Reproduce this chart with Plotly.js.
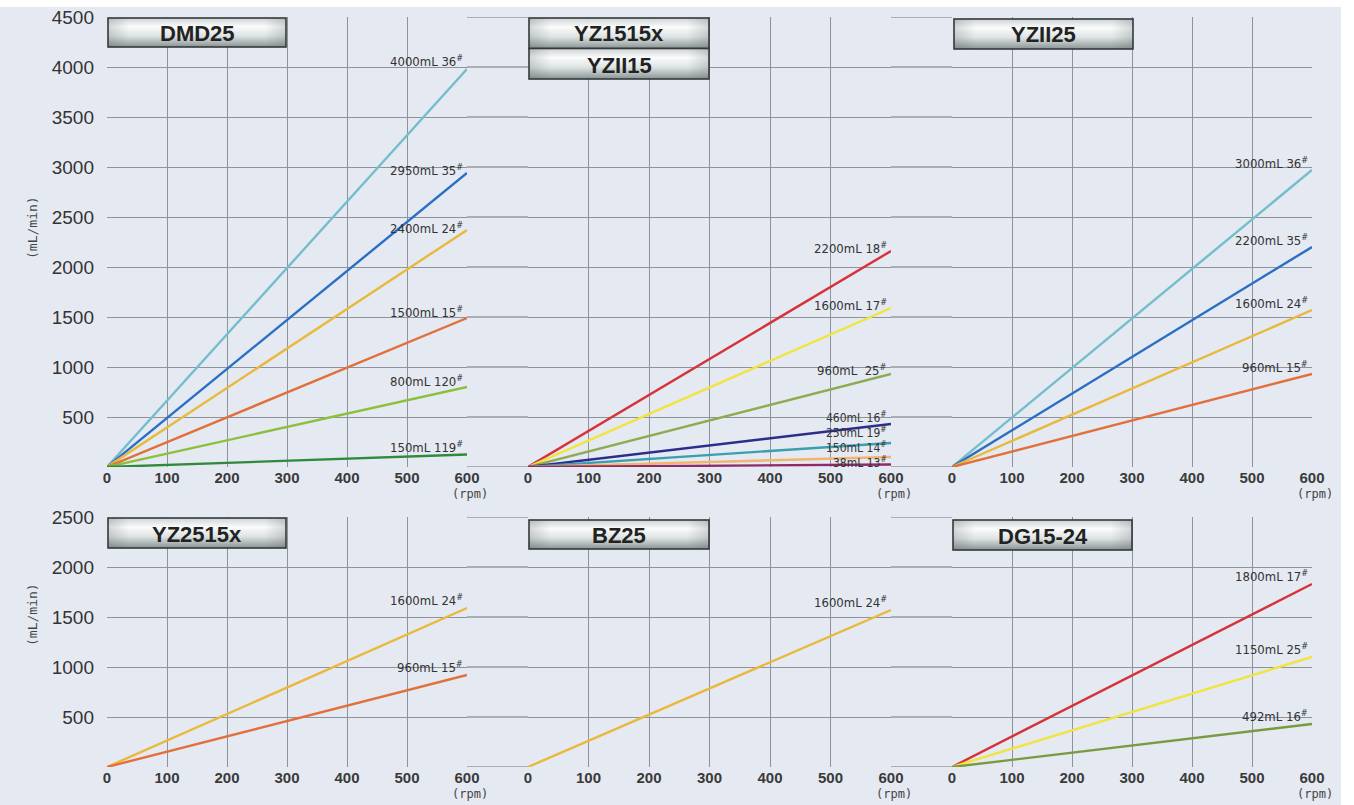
<!DOCTYPE html>
<html><head><meta charset="utf-8">
<script src="https://cdn.plot.ly/plotly-3.0.1.min.js"></script>
<style>html,body{margin:0;padding:0;background:#fff;}#chart{width:1354px;height:805px;}</style>
</head><body><div id="chart"></div>
<script>
// ---------------- DATA ----------------
const rpm = [0, 600];
const rpmTicks = [0, 100, 200, 300, 400, 500, 600];
const flowTicksTop = [0, 500, 1000, 1500, 2000, 2500, 3000, 3500, 4000, 4500];
const flowTicksBottom = [0, 500, 1000, 1500, 2000, 2500];
const yTitle = '(mL/min)';
const xUnit = '(rpm)';

const dmd25Title = ['DMD25'];
const dmd25Labels = ['4000mL 36#', '2950mL 35#', '2400mL 24#', '1500mL 15#', '800mL 120#', '150mL 119#'];
const dmd25Flow = [3980, 2940, 2370, 1490, 800, 125];

const yz1515Title = ['YZ1515x', 'YZII15'];
const yz1515Labels = ['2200mL 18#', '1600mL 17#', '960mL  25#', '460mL 16#', '250mL 19#', '150mL 14#', '38mL 13#'];
const yz1515Flow = [2160, 1590, 930, 430, 240, 100, 25];

const yzii25Title = ['YZII25'];
const yzii25Labels = ['3000mL 36#', '2200mL 35#', '1600mL 24#', '960mL 15#'];
const yzii25Flow = [2970, 2200, 1570, 930];

const yz2515Title = ['YZ2515x'];
const yz2515Labels = ['1600mL 24#', '960mL 15#'];
const yz2515Flow = [1590, 920];

const bz25Title = ['BZ25'];
const bz25Labels = ['1600mL 24#'];
const bz25Flow = [1570];

const dg1524Title = ['DG15-24'];
const dg1524Labels = ['1800mL 17#', '1150mL 25#', '492mL 16#'];
const dg1524Flow = [1830, 1100, 430];

// ---------------- STYLE ----------------
const W = 1354, H = 805;
const GRID = '#8d929b';
const GAPGRID = '#6f747d';
const BG = '#e5e9f2';
const TEAL_L = '#74bdcc', BLUE = '#2b6fc4', GOLD = '#e9b93c', ORANGE = '#e2703a',
      YGREEN = '#8cc03c', DGREEN = '#2f8a3c', RED = '#d6323a', YELLOW = '#f1e43c',
      OLIVE = '#8fab52', NAVY = '#2b2d8c', TEAL = '#3a9fae', LORANGE = '#f2b46e',
      PURPLE = '#8c2a6a', OLIVE2 = '#7a9a40';

const panels = [
  {title: dmd25Title, labels: dmd25Labels, flow: dmd25Flow, row: 0, col: 0,
   colors: [TEAL_L, BLUE, GOLD, ORANGE, YGREEN, DGREEN], shift: [8, 3, 2, 6, 6, 8],
   size: [13, 13, 13, 13, 13, 13]},
  {title: yz1515Title, labels: yz1515Labels, flow: yz1515Flow, row: 0, col: 1,
   colors: [RED, YELLOW, OLIVE, NAVY, TEAL, LORANGE, PURPLE], shift: [3, 3, 4, 7, 11, 10, 3],
   size: [13, 13, 13, 12, 12, 12, 12]},
  {title: yzii25Title, labels: yzii25Labels, flow: yzii25Flow, row: 0, col: 2,
   colors: [TEAL_L, BLUE, GOLD, ORANGE], shift: [7, 7, 7, 7], size: [13, 13, 13, 13]},
  {title: yz2515Title, labels: yz2515Labels, flow: yz2515Flow, row: 1, col: 0,
   colors: [GOLD, ORANGE], shift: [8, 8], size: [13, 13]},
  {title: bz25Title, labels: bz25Labels, flow: bz25Flow, row: 1, col: 1,
   colors: [GOLD], shift: [8], size: [13]},
  {title: dg1524Title, labels: dg1524Labels, flow: dg1524Flow, row: 1, col: 2,
   colors: [RED, YELLOW, OLIVE2], shift: [8, 8, 8], size: [13, 13, 13]}
];

// pixel geometry
const colPx = [[107, 467], [528, 891], [952, 1312]];
const rowPx = [[17, 467], [517, 767]];
const boxPx = [
  [107, 17, 180, 31], [528, 17, 182, 63], [953, 18, 181, 32],
  [107, 517, 180, 32], [528, 519, 182, 31], [952, 519, 181, 32]
];
const px = v => v / W;
const py = v => 1 - v / H;

const tickFontX = {family: 'Liberation Sans, Arial, sans-serif', size: 15, color: '#3a3a3a', weight: 'bold'};
const tickFontY = {family: 'Liberation Sans, Arial, sans-serif', size: 19, color: '#333'};
const labelFamily = 'Liberation Sans Narrow, DejaVu Sans Condensed, Arial Narrow, sans-serif';
const titleFont = {family: 'Liberation Sans, Arial, sans-serif', size: 22, color: '#222', weight: 'bold'};

function boxSvg(w, h, rows) {
  let s = `<svg xmlns="http://www.w3.org/2000/svg" width="${w}" height="${h}" viewBox="0 0 ${w} ${h}">` +
    `<defs><linearGradient id="g" x1="0" y1="0" x2="0" y2="1">` +
    `<stop offset="0" stop-color="#cdd3d4"/><stop offset="0.3" stop-color="#fbfcfc"/>` +
    `<stop offset="0.62" stop-color="#dde2e2"/><stop offset="1" stop-color="#8a9494"/></linearGradient>` +
    `<linearGradient id="hx" x1="0" y1="0" x2="1" y2="0">` +
    `<stop offset="0" stop-color="#606868" stop-opacity="0.25"/><stop offset="0.12" stop-color="#606868" stop-opacity="0"/>` +
    `<stop offset="0.88" stop-color="#606868" stop-opacity="0"/><stop offset="1" stop-color="#606868" stop-opacity="0.25"/></linearGradient></defs>`;
  const rh = (h - 2) / rows;
  for (let r = 0; r < rows; r++) {
    s += `<rect x="1" y="${1 + r * rh}" width="${w - 2}" height="${rh}" fill="url(#g)"/>`;
    s += `<rect x="1" y="${1 + r * rh}" width="${w - 2}" height="${rh}" fill="url(#hx)" stroke="#35393c" stroke-width="1.6"/>`;
  }
  s += '</svg>';
  return 'data:image/svg+xml;charset=utf-8,' + encodeURIComponent(s);
}

const data = [];
const layout = {
  width: W, height: H,
  margin: {l: 0, r: 0, t: 0, b: 0},
  paper_bgcolor: BG, plot_bgcolor: BG,
  showlegend: false,
  annotations: [], shapes: [], images: []
};

panels.forEach((p, i) => {
  const n = i + 1;
  const xa = n === 1 ? 'x' : 'x' + n;
  const ya = n === 1 ? 'y' : 'y' + n;
  const xd = [px(colPx[p.col][0]), px(colPx[p.col][1])];
  const yd = [py(rowPx[p.row][1]), py(rowPx[p.row][0])];
  const yt = p.row === 0 ? flowTicksTop : flowTicksBottom;
  layout['xaxis' + (n === 1 ? '' : n)] = {
    domain: xd, anchor: ya, range: [0, 600], tickvals: rpmTicks,
    showgrid: true, gridcolor: GRID, gridwidth: 1, zeroline: false, showline: false,
    ticks: '', tickfont: tickFontX, fixedrange: true
  };
  layout['yaxis' + (n === 1 ? '' : n)] = {
    domain: yd, anchor: xa, range: [0, yt[yt.length - 1]], tickvals: yt,
    ticktext: yt.map(v => v === 0 ? '' : String(v)),
    showticklabels: p.col === 0, ticklabelstandoff: 12,
    showgrid: true, gridcolor: GRID, gridwidth: 1, zeroline: false, showline: false,
    ticks: '', tickfont: tickFontY, fixedrange: true
  };
  p.flow.forEach((f, k) => {
    data.push({
      type: 'scatter', mode: 'lines', x: rpm, y: [0, f], xaxis: xa, yaxis: ya,
      line: {color: p.colors[k], width: 2.4}, hoverinfo: 'skip'
    });
    layout.annotations.push({
      xref: xa, yref: ya, x: 600, y: f, xanchor: 'right', yanchor: 'middle',
      xshift: -2, yshift: p.shift[k], showarrow: false,
      text: p.labels[k].replace('#', '<sup>#</sup>').replace('  ', '&nbsp; '),
      font: {family: labelFamily, size: p.size[k], color: '#333'}
    });
  });
  // (rpm) under 600
  layout.annotations.push({
    xref: xa, yref: 'paper', x: 600, xshift: 3, y: py(rowPx[p.row][1] + 27),
    yanchor: 'middle', showarrow: false, text: xUnit,
    font: {family: 'DejaVu Sans Mono, monospace', size: 12, color: '#444'}
  });
  // panel title box
  const b = boxPx[i];
  layout.images.push({
    source: boxSvg(b[2], b[3], p.title.length), xref: 'paper', yref: 'paper',
    x: px(b[0]), y: py(b[1]), sizex: b[2] / W, sizey: b[3] / H,
    xanchor: 'left', yanchor: 'top', sizing: 'stretch', layer: 'above'
  });
  const rh = b[3] / p.title.length;
  p.title.forEach((t, r) => {
    layout.annotations.push({
      xref: 'paper', yref: 'paper', x: px(b[0] + b[2] / 2), y: py(b[1] + rh * (r + 0.5) + 1),
      xanchor: 'center', yanchor: 'middle', showarrow: false, text: t, font: titleFont
    });
  });
});

// horizontal gridlines continuing through the gaps between panels
[[0, 'y', flowTicksTop], [1, 'y4', flowTicksBottom]].forEach(([row, yref, ticks]) => {
  ticks.forEach(v => {
    [[colPx[0][1], colPx[1][0]], [colPx[1][1], colPx[2][0]]].forEach(g => {
      layout.shapes.push({type: 'line', layer: 'below', xref: 'paper', yref: yref,
        x0: px(g[0]), x1: px(g[1]), y0: v, y1: v, line: {color: GAPGRID, width: 1}});
    });
  });
});

// y-axis unit labels
[[228], [615]].forEach(([cy]) => {
  layout.annotations.push({
    xref: 'paper', yref: 'paper', x: px(32), y: py(cy), textangle: -90,
    xanchor: 'center', yanchor: 'middle', showarrow: false, text: yTitle,
    font: {family: 'DejaVu Sans Mono, monospace', size: 13, color: '#444'}
  });
});

// scan margins (white strip at top and right)
layout.shapes.push({type: 'rect', xref: 'paper', yref: 'paper', x0: 0, x1: 1, y0: py(7), y1: 1,
  fillcolor: '#ffffff', line: {width: 0}, layer: 'above'});
layout.shapes.push({type: 'rect', xref: 'paper', yref: 'paper', x0: px(1341), x1: 1, y0: 0, y1: 1,
  fillcolor: '#ffffff', line: {width: 0}, layer: 'above'});

Plotly.newPlot('chart', data, layout, {displayModeBar: false, staticPlot: true});
</script>
</body></html>
